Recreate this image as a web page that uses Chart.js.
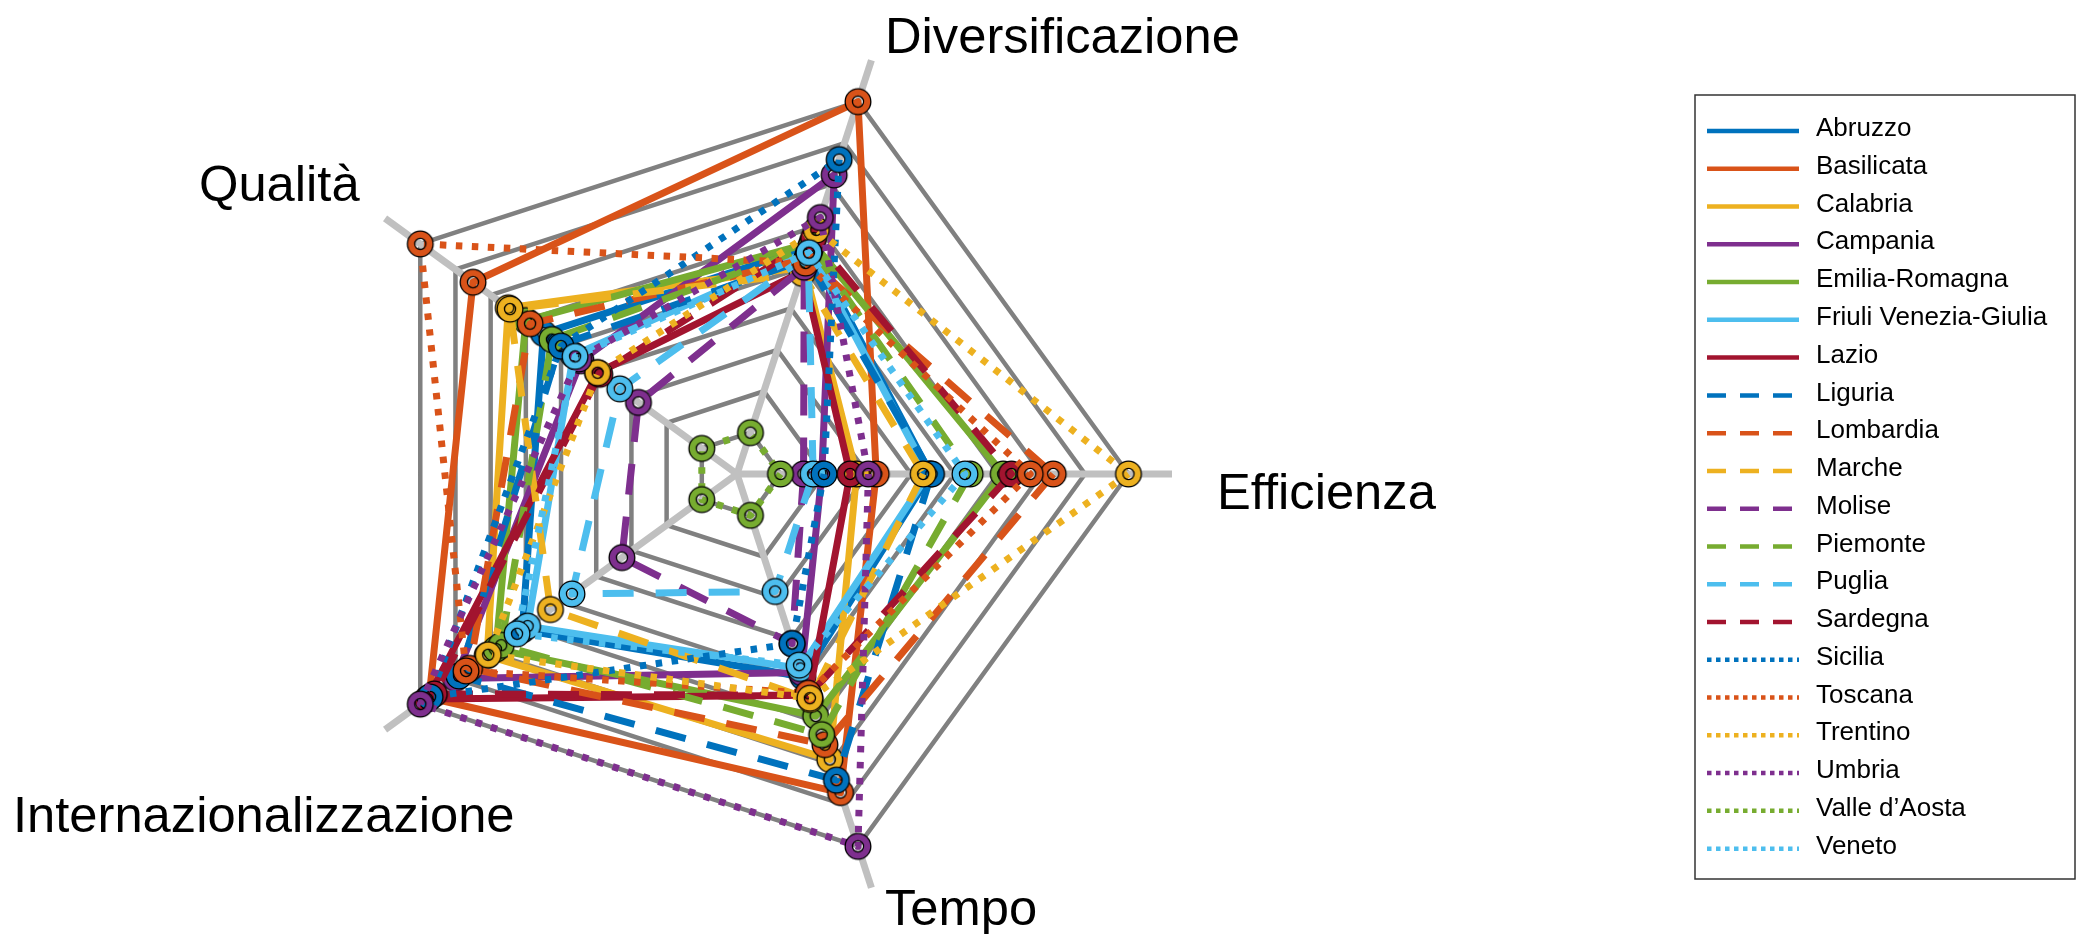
<!DOCTYPE html>
<html>
<head>
<meta charset="utf-8">
<script src="https://cdn.jsdelivr.net/npm/chart.js@4.4.1/dist/chart.umd.min.js"></script>
<style>
  html, body { margin: 0; padding: 0; background: #fff; }
  #wrap { position: relative; width: 2078px; height: 934px; }
</style>
</head>
<body>
<div id="wrap"><canvas id="chart" width="2078" height="934"></canvas></div>
<script>
// axes, clockwise starting from the right-hand spoke
const categories = ['Efficienza', 'Tempo', 'Internazionalizzazione', 'Qualità', 'Diversificazione'];

const regions = ['Abruzzo', 'Basilicata', 'Calabria', 'Campania', 'Emilia-Romagna',
  'Friuli Venezia-Giulia', 'Lazio', 'Liguria', 'Lombardia', 'Marche', 'Molise',
  'Piemonte', 'Puglia', 'Sardegna', 'Sicilia', 'Toscana', 'Trentino', 'Umbria',
  'Valle d\u2019Aosta', 'Veneto'];

// values per region, same order as categories (scale 0-10)
const abruzzo    = [4.45, 4.9, 6.1, 5.5, 5.5];
const basilicata = [3.2, 7.7, 8.75, 7.5, 9.0];
const calabria   = [2.75, 6.9, 7.1, 6.5, 5.0];
const campania   = [1.95, 4.8, 8.0, 4.43, 7.23];
const emilia     = [6.12, 5.85, 6.85, 6.0, 5.6];
const friuli     = [4.4, 4.7, 5.95, 4.65, 5.4];
const lazio      = [2.6, 5.35, 8.8, 3.96, 4.9];
const liguria    = [4.47, 7.4, 7.9, 5.04, 5.2];
const lombardia  = [7.27, 6.54, 7.6, 5.88, 5.2];
const marche     = [4.28, 5.45, 5.3, 6.45, 4.85];
const molise     = [1.53, 4.1, 3.27, 2.8, 5.0];
const piemonte   = [5.36, 6.3, 6.7, 5.26, 5.5];
const puglia     = [1.75, 2.84, 4.69, 3.33, 5.3];
const sardegna   = [6.31, 5.35, 8.6, 3.9, 5.7];
const sicilia    = [2.0, 4.1, 8.72, 5.0, 7.6];
const toscana    = [6.74, 5.3, 7.7, 9.0, 5.1];
const trentino   = [9.0, 5.42, 7.07, 3.96, 5.9];
const umbria     = [3.02, 9.0, 9.0, 4.5, 6.2];
const valle      = [1.0, 1.0, 1.0, 1.0, 1.0];
const veneto     = [5.24, 4.62, 6.25, 4.6, 5.35];

const series = [abruzzo, basilicata, calabria, campania, emilia, friuli, lazio,
  liguria, lombardia, marche, molise, piemonte, puglia, sardegna, sicilia,
  toscana, trentino, umbria, valle, veneto];

const palette = ['#0072BD', '#D95319', '#EDB120', '#7E2F8E', '#77AC30', '#4DBEEE', '#A2142F'];
const plotDash = { solid: [], dashed: [31, 22], dotted: [6.5, 9.5] };
const legendDash = { solid: [], dashed: [19, 14], dotted: [4.5, 4.5] };

function styleFor(i) {
  if (i < 7) return 'solid';
  if (i < 14) return 'dashed';
  return 'dotted';
}

// ring shaped marker: coloured annulus with thin black edges
const markerCache = {};
function ringMarker(color) {
  if (markerCache[color]) return markerCache[color];
  const c = document.createElement('canvas');
  c.width = 30; c.height = 30;
  const g = c.getContext('2d');
  g.beginPath();
  g.arc(15, 15, 9.2, 0, Math.PI * 2);
  g.lineWidth = 8.6;
  g.strokeStyle = '#000';
  g.stroke();
  g.lineWidth = 6;
  g.strokeStyle = color;
  g.stroke();
  markerCache[color] = c;
  return c;
}

const datasets = series.map((vals, i) => {
  const color = palette[i % 7];
  return {
    label: regions[i],
    data: vals,
    borderColor: color,
    backgroundColor: color,
    borderWidth: 7,
    borderDash: plotDash[styleFor(i)],
    borderCapStyle: 'butt',
    borderJoinStyle: 'round',
    fill: false,
    tension: 0,
    pointStyle: ringMarker(color),
    pointRadius: 13,
    order: series.length - 1 - i,
    lineStyle: styleFor(i)
  };
});

// label anchors relative to the chart centre (left x, baseline y)
const labelOffsets = [[480, 35], [148, 451], [-724, 358], [-538, -273], [148, -421]];

const axisLabels = {
  id: 'axisLabels',
  afterDraw(chart) {
    const r = chart.scales.r;
    const ctx = chart.ctx;
    ctx.save();
    ctx.font = '50.7px "Liberation Sans", Arial, Helvetica, sans-serif';
    ctx.fillStyle = '#000';
    ctx.textAlign = 'left';
    ctx.textBaseline = 'alphabetic';
    categories.forEach((name, i) => {
      ctx.fillText(name, r.xCenter + labelOffsets[i][0], r.yCenter + labelOffsets[i][1]);
    });
    ctx.restore();
  }
};

const boxLegend = {
  id: 'boxLegend',
  afterDraw(chart) {
    const ctx = chart.ctx;
    const box = { x: 1695, y: 95, w: 380, h: 784 };
    ctx.save();
    ctx.fillStyle = '#fff';
    ctx.fillRect(box.x, box.y, box.w, box.h);
    ctx.lineWidth = 1.5;
    ctx.strokeStyle = '#333';
    ctx.strokeRect(box.x, box.y, box.w, box.h);
    ctx.font = '26px "Liberation Sans", Arial, Helvetica, sans-serif';
    ctx.textBaseline = 'middle';
    chart.data.datasets.forEach((ds, i) => {
      const y = 131 + i * 37.77;
      ctx.beginPath();
      ctx.lineWidth = 4.5;
      ctx.lineCap = 'butt';
      ctx.strokeStyle = ds.borderColor;
      ctx.setLineDash(legendDash[ds.lineStyle]);
      ctx.moveTo(1707, y);
      ctx.lineTo(ds.lineStyle === 'dashed' ? 1792 : 1799, y);
      ctx.stroke();
      ctx.setLineDash([]);
      ctx.fillStyle = '#000';
      ctx.fillText(ds.label, 1816, y - 2);
    });
    ctx.restore();
  }
};

new Chart(document.getElementById('chart'), {
  type: 'radar',
  data: { labels: categories, datasets: datasets },
  options: {
    responsive: false,
    animation: false,
    devicePixelRatio: 1,
    layout: { padding: { left: 302, top: 39, right: 906, bottom: 25 } },
    plugins: { legend: { display: false }, tooltip: { enabled: false } },
    scales: {
      r: {
        min: 0,
        max: 10,
        startAngle: 90,
        ticks: { display: false, stepSize: 1 },
        pointLabels: { display: false },
        grid: {
          color: (ctx) => (ctx.tick && ctx.tick.value >= 10 ? 'rgba(0,0,0,0)' : '#808080'),
          lineWidth: 4.5
        },
        angleLines: { color: '#c0c0c0', lineWidth: 7 }
      }
    }
  },
  plugins: [axisLabels, boxLegend]
});
</script>
</body>
</html>
